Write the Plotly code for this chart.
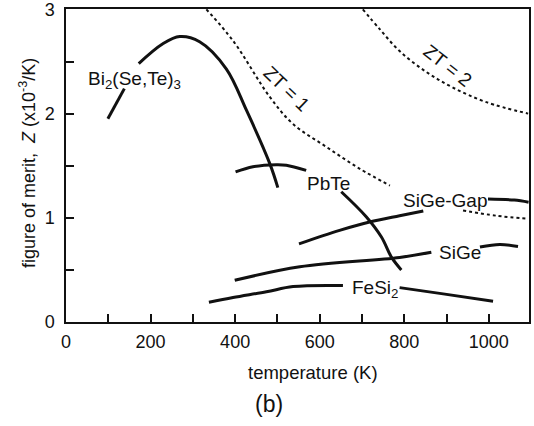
import plotly.graph_objects as go

# ---- data (temperature K, Z in 1e-3/K) ----
bi_T = [99, 138, None, 172, 229, 269, 316, 379, 427, 482, 501]
bi_Z = [1.95, 2.24, None, 2.48, 2.67, 2.74, 2.69, 2.43, 2.03, 1.52, 1.29]

pbte_hump_T = [401, 442, 497, 521, 568]
pbte_hump_Z = [1.44, 1.49, 1.51, 1.505, 1.455]

pbte_steep_T = [651, 710, 746, 770, 793]
pbte_steep_Z = [1.25, 1.01, 0.815, 0.62, 0.50]

sigegap_T = [551, 647, 718, 789, 845, None, 998, 1060, 1094]
sigegap_Z = [0.75, 0.88, 0.96, 1.02, 1.065, None, 1.18, 1.17, 1.15]

sigegap_dot_T = [939, 1018, 1093]
sigegap_dot_Z = [1.07, 1.02, 0.99]

sige_T = [399, 553, 789, 864, None, 979, 1026, 1069]
sige_Z = [0.40, 0.53, 0.62, 0.67, None, 0.72, 0.745, 0.725]

fesi_T = [338, 395, 474, 537, 655, None, 789, 892, 1010]
fesi_Z = [0.19, 0.235, 0.29, 0.34, 0.35, None, 0.33, 0.27, 0.20]

zt1_T = [332, 395, 482, 537, 616, 695, 766]
zt1_Z = [3.0, 2.70, 2.16, 1.90, 1.68, 1.47, 1.31]

zt2_T = [702, 742, 789, 852, 915, 994, 1093]
zt2_Z = [3.0, 2.81, 2.60, 2.40, 2.25, 2.11, 2.0]

labels = ["Bi<sub>2</sub>(Se,Te)<sub>3</sub>", "ZT = 1", "ZT = 2", "PbTe",
          "SiGe-Gap", "SiGe", "FeSi<sub>2</sub>"]
label_T = [162, 521, 902, 620, 897, 932, 730]
label_Z = [2.32, 2.24, 2.46, 1.325, 1.167, 0.668, 0.314]
label_angle = [0, 44, 38, 0, 0, 0, 0]

x_ticks = [0, 200, 400, 600, 800, 1000]
y_ticks = [0, 1, 2, 3]

FONT = "Liberation Sans, Arial, sans-serif"
INK = "#111111"

W, H = 534, 426
L, R, T, B = 66, 5, 9, 104
PW, PH = W - L - R, H - T - B


def px_x(px):
    return (px - L) / PW


def px_y(py):
    return (H - B - py) / PH


fig = go.Figure()

solid = [(bi_T, bi_Z), (pbte_hump_T, pbte_hump_Z), (pbte_steep_T, pbte_steep_Z),
         (sigegap_T, sigegap_Z), (sige_T, sige_Z), (fesi_T, fesi_Z)]
for xs, ys in solid:
    fig.add_trace(go.Scatter(x=xs, y=ys, mode="lines",
                             line=dict(color=INK, width=3, shape="spline"),
                             connectgaps=False, showlegend=False, hoverinfo="skip"))

for xs, ys in [(zt1_T, zt1_Z), (zt2_T, zt2_Z), (sigegap_dot_T, sigegap_dot_Z)]:
    fig.add_trace(go.Scatter(x=xs, y=ys, mode="lines",
                             line=dict(color=INK, width=2, dash="dot", shape="spline"),
                             showlegend=False, hoverinfo="skip"))

for t, xv, yv, a in zip(labels, label_T, label_Z, label_angle):
    fig.add_annotation(x=xv, y=yv, text=t, showarrow=False, textangle=a,
                       font=dict(family=FONT, size=19, color=INK),
                       xanchor="center", yanchor="middle")

fig.add_annotation(x=px_x(313), y=px_y(372), xref="paper", yref="paper",
                   text="temperature (K)", showarrow=False,
                   font=dict(family=FONT, size=18.5, color=INK),
                   xanchor="center", yanchor="middle")
fig.add_annotation(x=px_x(269), y=px_y(404), xref="paper", yref="paper", text="(b)",
                   showarrow=False, font=dict(family=FONT, size=23, color=INK),
                   xanchor="center", yanchor="middle")
fig.add_annotation(x=px_x(28), y=px_y(163), xref="paper", yref="paper",
                   text="figure of merit,  <i>Z</i> (x10<sup>-3</sup>/K)",
                   showarrow=False, textangle=-90,
                   font=dict(family=FONT, size=18, color=INK),
                   xanchor="center", yanchor="middle")

axis_common = dict(ticks="inside", ticklen=8, tickwidth=1.5, tickcolor=INK,
                   showline=True, linecolor=INK, linewidth=1.5, mirror=True,
                   showgrid=False, zeroline=False, automargin=False,
                   ticklabeloverflow="allow",
                   tickfont=dict(family=FONT, size=18, color=INK))

fig.update_layout(
    width=W, height=H,
    margin=dict(l=L, r=R, t=T, b=B, autoexpand=False),
    paper_bgcolor="white", plot_bgcolor="white",
    font=dict(family=FONT, size=18, color=INK),
    xaxis=dict(range=[0, 1095], tickvals=x_ticks, ticklabelstandoff=3,
               minor=dict(dtick=100, ticks="inside", ticklen=8, tickwidth=1.5,
                          tickcolor=INK, showgrid=False),
               **axis_common),
    yaxis=dict(range=[0, 3.004], tickvals=y_ticks, ticklabelstandoff=6,
               minor=dict(dtick=0.5, ticks="inside", ticklen=8, tickwidth=1.5,
                          tickcolor=INK, showgrid=False),
               **axis_common),
)

fig.write_html("out.html", config={"displayModeBar": False},
               post_script="document.body.style.margin='0';"
                           "document.body.style.overflow='hidden';")
